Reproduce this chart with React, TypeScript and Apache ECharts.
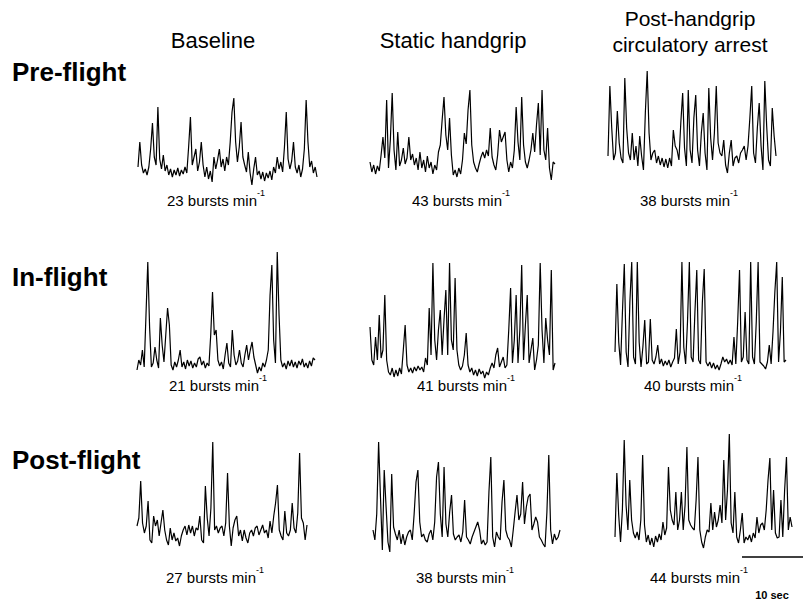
import React, { useEffect, useRef } from "react";
import * as echarts from "echarts";

// Amplitude (arbitrary units) of integrated muscle sympathetic nerve activity
const preBaseline = [20,45,22,14,18,12,20,38,64,30,22,80,28,18,32,16,22,12,18,10,17,12,19,11,17,13,20,14,40,70,22,30,38,16,25,45,22,10,20,8,16,5,30,18,27,38,20,28,16,30,22,45,75,89,45,25,40,65,30,22,15,35,14,2,18,30,12,16,8,15,6,14,9,16,7,20,14,30,18,25,15,40,75,28,18,26,45,20,14,22,10,18,38,87,45,20,26,14,20,10];
const preStatic = [18,8,15,6,14,9,25,43,22,80,12,40,87,30,10,48,14,20,32,16,22,43,20,26,15,22,10,28,12,20,8,24,12,18,6,15,10,28,35,60,83,45,30,62,25,5,10,3,12,6,20,47,36,70,90,35,18,12,8,16,23,28,22,30,24,52,23,15,10,25,50,38,43,48,20,8,18,12,30,73,38,20,83,35,18,12,20,30,47,28,55,77,25,90,30,20,52,12,0,18,16];
const prePHGCA = [17,87,45,13,20,62,30,15,10,95,45,20,13,40,13,27,7,37,17,3,60,102,40,13,20,23,10,17,8,15,6,14,5,15,7,43,27,23,13,50,80,25,7,83,23,10,55,78,23,7,40,60,20,3,85,35,13,40,87,30,20,17,33,8,0,20,33,7,15,17,10,20,23,27,13,27,55,87,20,10,45,70,27,3,92,47,13,7,65,37,17];
const inBaseline = [5,15,10,25,8,60,113,48,8,12,28,15,7,57,30,13,40,67,50,10,5,13,8,15,25,8,13,6,15,9,14,7,12,8,16,18,10,14,7,12,9,40,83,40,45,15,9,13,6,20,32,12,8,45,20,10,14,25,12,8,20,30,15,25,33,18,10,2,8,4,12,8,15,25,80,110,35,12,123,60,15,8,12,6,14,9,15,8,13,7,14,10,16,8,12,7,14,9,17,15];
const inStatic = [53,20,15,43,20,65,22,30,85,20,8,5,12,3,10,4,12,6,30,55,15,8,12,7,13,9,14,10,13,8,22,15,72,25,117,40,20,50,70,25,60,90,25,117,40,30,102,30,15,10,14,25,47,15,8,12,5,10,4,11,6,9,2,8,5,12,17,12,25,32,13,18,23,12,15,50,92,17,40,85,17,50,115,20,55,85,17,30,42,10,20,35,117,50,17,62,40,25,110,10,17];
const inPHGCA = [20,88,30,7,60,108,20,5,70,110,15,8,110,30,5,25,52,8,10,53,12,8,15,27,8,13,6,11,7,12,5,10,14,43,8,20,110,25,8,50,110,15,10,60,102,12,8,70,103,10,6,10,4,9,3,7,2,8,15,10,13,8,12,7,35,8,50,102,10,15,60,12,8,110,15,8,50,110,10,8,6,3,10,27,8,40,80,110,10,40,95,10,12];
const postBaseline = [22,30,67,25,15,22,47,8,5,32,22,28,12,25,38,18,8,3,20,8,15,7,10,2,12,18,22,13,23,15,22,12,20,18,32,8,5,62,30,12,40,106,18,22,15,20,22,12,25,75,22,2,20,28,32,12,18,7,18,10,5,15,18,12,20,22,13,18,23,15,18,10,27,15,32,45,63,18,12,8,37,15,12,18,45,20,15,35,95,30,25,8,23];
const postStatic = [22,12,38,110,55,2,82,45,10,0,78,25,18,12,22,8,18,7,15,20,22,12,38,70,82,30,15,18,12,10,18,22,12,30,75,90,38,15,85,28,15,40,57,18,12,15,17,10,20,52,15,12,8,15,20,25,30,22,8,12,7,10,60,95,15,5,20,15,12,50,72,22,15,12,5,22,40,57,32,38,70,28,45,55,58,22,28,35,30,15,12,8,5,40,97,22,8,18,12,15,22];
const postPHGCA = [13,77,35,8,40,110,45,20,70,30,17,12,18,10,30,95,25,8,15,5,12,3,14,8,16,10,28,15,22,83,40,30,25,58,20,30,58,20,45,103,30,25,22,20,50,93,20,8,2,13,20,18,47,20,38,23,30,45,27,90,30,60,116,27,17,58,13,7,20,37,7,13,10,15,8,17,12,33,17,25,27,20,40,70,92,20,60,17,12,13,50,13,60,93,20,33,23];

const columnTitles = ["Baseline", "Static handgrip"];
const phgcaTitle = ["Post-handgrip", "circulatory arrest"];
const rowTitles = ["Pre-flight", "In-flight", "Post-flight"];
const burstRates = [
  [23, 43, 38],
  [21, 41, 40],
  [27, 38, 44],
];
const scaleLabel = "10 sec";

const FONT = "'Liberation Sans', Arial, Helvetica, sans-serif";

const traces = [
  [preBaseline, preStatic, prePHGCA],
  [inBaseline, inStatic, inPHGCA],
  [postBaseline, postStatic, postPHGCA],
];

// layout boxes (pixels) for each trace panel
const layout = [
  [
    { left: 138, top: 97, width: 179, height: 90 },
    { left: 370, top: 90, width: 185, height: 90 },
    { left: 608, top: 71, width: 168, height: 102 },
  ],
  [
    { left: 137, top: 252, width: 178, height: 123 },
    { left: 370, top: 263, width: 185, height: 117 },
    { left: 615, top: 262, width: 171, height: 110 },
  ],
  [
    { left: 137, top: 442, width: 170, height: 106 },
    { left: 373, top: 442, width: 187, height: 110 },
    { left: 615, top: 434, width: 177, height: 116 },
  ],
];
const rateLabelPos = [
  [[216, 198], [461, 198], [689, 198]],
  [[218, 383], [466, 383], [693, 383]],
  [[215, 575], [465, 575], [699, 575]],
];
const rowLabelY = [72, 277, 460];

export default function App() {
  const ref = useRef<HTMLDivElement>(null);
  useEffect(() => {
    if (!ref.current) return;
    const chart = echarts.init(ref.current, null, { renderer: "svg" });
    const grids: any[] = [];
    const xAxes: any[] = [];
    const yAxes: any[] = [];
    const series: any[] = [];
    let k = 0;
    for (let r = 0; r < 3; r++) {
      for (let c = 0; c < 3; c++) {
        const box = layout[r][c];
        const data = traces[r][c];
        grids.push({ left: box.left, top: box.top, width: box.width, height: box.height });
        xAxes.push({
          type: "category",
          gridIndex: k,
          show: false,
          boundaryGap: false,
          data: data.map((_, i) => i),
        });
        yAxes.push({ type: "value", gridIndex: k, show: false, min: 0, max: box.height });
        series.push({
          type: "line",
          xAxisIndex: k,
          yAxisIndex: k,
          data,
          showSymbol: false,
          symbol: "none",
          lineStyle: { color: "#000", width: 1.2 },
          silent: true,
        });
        k++;
      }
    }
    const graphic: any[] = [];
    const headX = [213, 453];
    columnTitles.forEach((t, i) =>
      graphic.push({
        type: "text",
        x: headX[i],
        y: 40,
        style: { text: t, fontSize: 22, fontFamily: FONT, fill: "#000", align: "center", verticalAlign: "middle" },
      })
    );
    phgcaTitle.forEach((t, i) =>
      graphic.push({
        type: "text",
        x: 690,
        y: 18 + i * 26,
        style: { text: t, fontSize: 21, fontFamily: FONT, fill: "#000", align: "center", verticalAlign: "middle" },
      })
    );
    rowTitles.forEach((t, i) =>
      graphic.push({
        type: "text",
        x: 12,
        y: rowLabelY[i],
        style: { text: t, fontSize: 26, fontWeight: "bold", fontFamily: FONT, fill: "#000", align: "left", verticalAlign: "middle" },
      })
    );
    for (let r = 0; r < 3; r++) {
      for (let c = 0; c < 3; c++) {
        const [x, y] = rateLabelPos[r][c];
        graphic.push({
          type: "text",
          x,
          y,
          style: {
            text: `{a|${burstRates[r][c]} bursts min}{b|-1}`,
            align: "center",
            verticalAlign: "middle",
            rich: {
              a: { fontSize: 15, fontFamily: FONT, fill: "#000", lineHeight: 20, verticalAlign: "bottom" },
              b: { fontSize: 9, fontFamily: FONT, fill: "#000", lineHeight: 20, verticalAlign: "top" },
            },
          },
        });
      }
    }
    graphic.push({
      type: "line",
      shape: { x1: 742, y1: 557, x2: 803, y2: 557 },
      style: { stroke: "#000", lineWidth: 1.5 },
    });
    graphic.push({
      type: "text",
      x: 772,
      y: 595,
      style: { text: scaleLabel, fontSize: 11, fontWeight: "bold", fontFamily: FONT, fill: "#000", align: "center", verticalAlign: "middle" },
    });

    chart.setOption({
      animation: false,
      backgroundColor: "#fff",
      grid: grids,
      xAxis: xAxes,
      yAxis: yAxes,
      series,
      graphic,
    });
    return () => chart.dispose();
  }, []);
  return (
    <div
      ref={ref}
      style={{ position: "fixed", left: 0, top: 0, width: 803, height: 603, background: "#fff" }}
    />
  );
}
